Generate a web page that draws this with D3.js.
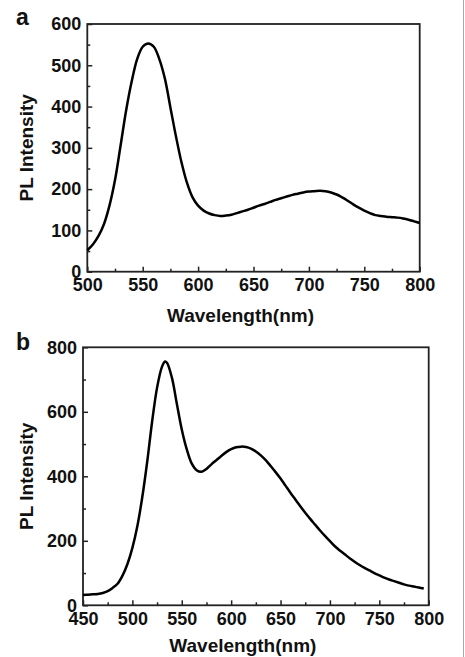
<!DOCTYPE html>
<html><head><meta charset="utf-8">
<script src="https://cdn.jsdelivr.net/npm/d3@7"></script>
<style>
body{margin:0;background:#fff;}
svg{display:block;font-family:"Liberation Sans",Arial,sans-serif;}
.tick text{font-weight:bold;font-size:18px;fill:#111;}
</style></head><body>
<svg id="c" width="465" height="657"></svg>
<script>
// Panel a data
const waveA = [500,505,510,515,520,525,530,535,540,545,550,555,560,565,570,575,580,585,590,595,600,605,610,615,620,625,630,635,640,645,650,655,660,665,670,675,680,685,690,695,700,705,710,715,720,725,730,735,740,745,750,755,760,765,770,775,780,785,790,795,800];
const intA = [52,66,86,115,160,222,305,390,460,515,545,553,545,515,468,398,328,265,215,180,160,148,141,137,135,136,138,142,146,150,155,160,164,169,174,178,182,186,189,192,194,195,196,195,192,187,180,172,163,155,148,142,137,135,133,132,131,129,126,122,118];
// Panel b data
const waveB = [450,455,460,465,470,475,480,485,490,495,500,505,510,515,520,525,530,533,535,540,545,550,555,560,565,570,575,580,585,590,595,600,605,610,615,620,625,630,635,640,645,650,655,660,665,670,675,680,685,690,695,700,705,710,715,720,725,730,735,740,745,750,755,760,765,770,775,780,785,790,795];
const intB = [32,33,34,35,38,44,54,67,92,128,178,245,335,445,570,675,740,756,752,706,625,545,484,440,419,414,423,437,450,463,475,484,490,492,491,486,477,465,450,432,413,393,371,349,328,307,287,268,250,232,215,199,183,170,158,146,135,125,116,108,100,93,86,80,75,70,65,61,58,55,52];
// Tick values
const xTicksA = [500,550,600,650,700,750,800];
const xMinorA = [525,575,625,675,725,775];
const yTicksA = [0,100,200,300,400,500,600];
const yMinorA = [50,150,250,350,450,550];
const xTicksB = [450,500,550,600,650,700,750,800];
const xMinorB = [475,525,575,625,675,725,775];
const yTicksB = [0,200,400,600,800];
const yMinorB = [100,300,500,700];

const svg = d3.select("#c");

function panel(o){
  const g = svg.append("g");
  const x = d3.scaleLinear().domain(o.xd).range([o.l,o.r]);
  const y = d3.scaleLinear().domain(o.yd).range([o.b,o.t]);
  // minor ticks
  g.append("g").attr("transform",`translate(0,${o.b})`)
    .call(d3.axisBottom(x).tickValues(o.xm).tickSize(-3).tickFormat(""))
    .call(s=>s.select(".domain").remove());
  g.append("g").attr("transform",`translate(${o.l},0)`)
    .call(d3.axisLeft(y).tickValues(o.ym).tickSize(-3).tickFormat(""))
    .call(s=>s.select(".domain").remove());
  // major
  g.append("g").attr("transform",`translate(0,${o.b})`)
    .call(d3.axisBottom(x).tickValues(o.xt).tickSize(-5).tickPadding(7).tickFormat(d3.format("d")))
    .call(s=>s.select(".domain").remove());
  g.append("g").attr("transform",`translate(${o.l},0)`)
    .call(d3.axisLeft(y).tickValues(o.yt).tickSize(-5).tickPadding(6).tickFormat(d3.format("d")))
    .call(s=>s.select(".domain").remove());
  g.selectAll(".tick line").attr("stroke","#222").attr("stroke-width",1.5);
  // frame
  g.append("rect").attr("x",o.l).attr("y",o.t).attr("width",o.r-o.l).attr("height",o.b-o.t)
    .attr("fill","none").attr("stroke","#222").attr("stroke-width",1.8);
  // curve
  const data = o.w.map((d,i)=>[d,o.v[i]]);
  g.append("path").datum(data)
    .attr("fill","none").attr("stroke","#000").attr("stroke-width",2.5).attr("stroke-linejoin","round")
    .attr("d",d3.line().x(d=>x(d[0])).y(d=>y(d[1])).curve(d3.curveCatmullRom.alpha(0.5)));
  // titles
  g.append("text").attr("x",(o.l+o.r)/2-13).attr("y",o.b+o.tb).attr("text-anchor","middle")
    .attr("font-weight","bold").attr("font-size",19).attr("fill","#111").text("Wavelength(nm)");
  g.append("text").attr("transform",`translate(33,${(o.t+o.b)/2}) rotate(-90)`).attr("text-anchor","middle")
    .attr("font-weight","bold").attr("font-size",19).attr("fill","#111").text("PL Intensity");
  g.append("text").attr("x",16).attr("y",o.t+(o.lab=="a"?1:3)).attr("font-weight","bold").attr("font-size",23)
    .attr("fill","#111").text(o.lab);
}

panel({l:87.3,r:419.7,t:24,b:271.7,tb:50,xd:[500,800],yd:[0,600],xt:xTicksA,xm:xMinorA,yt:yTicksA,ym:yMinorA,w:waveA,v:intA,lab:"a"});
panel({l:83,r:428.7,t:347.3,b:605.3,tb:46.5,xd:[450,800],yd:[0,800],xt:xTicksB,xm:xMinorB,yt:yTicksB,ym:yMinorB,w:waveB,v:intB,lab:"b"});

svg.append("line").attr("x1",463.5).attr("x2",463.5).attr("y1",0).attr("y2",657)
  .attr("stroke","#aaa").attr("stroke-width",1);
</script></body></html>
